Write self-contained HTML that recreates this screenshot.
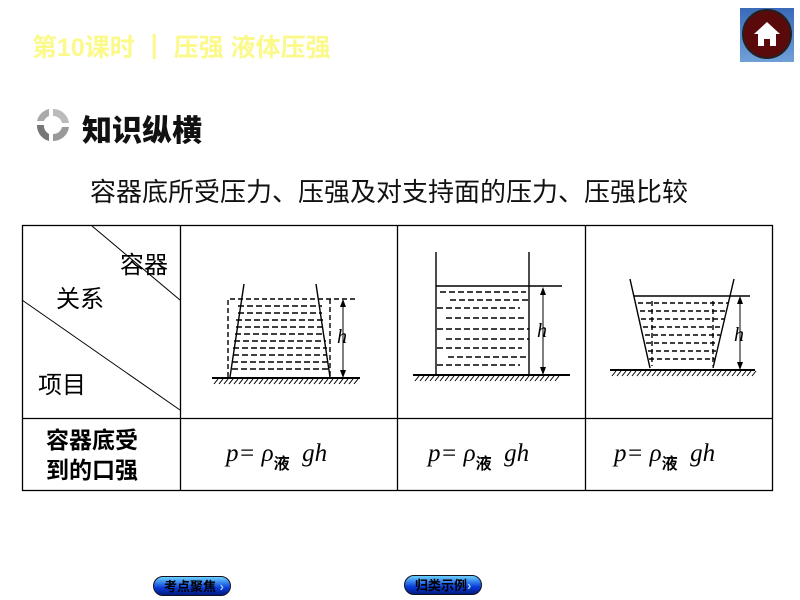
<!DOCTYPE html>
<html><head><meta charset="utf-8"><style>
body{margin:0;width:800px;height:600px;background:#fff;position:relative;overflow:hidden;font-family:"Liberation Sans","Noto Sans CJK SC",sans-serif}
.a{position:absolute;white-space:nowrap}
.btn{position:absolute;height:20px;border-radius:10px;background:linear-gradient(#6ad0ff,#0a3cd8 60%,#021a80);border:1px solid #112;font-size:13px;font-weight:bold;color:#000;line-height:20px;padding-left:10px;box-sizing:border-box}
.f{font-family:"Liberation Serif","Noto Serif CJK SC",serif;font-style:italic;font-size:25px}
.f span{font-size:16px;font-style:normal;font-weight:bold;position:relative;top:8px;font-family:'Noto Sans CJK SC',sans-serif}
</style></head><body>
<div class="a" style="left:32px;top:28px;font-size:25px;font-weight:bold;color:#fbf98a">第10课时 <span style="font-weight:900">┃</span> 压强 液体压强</div>
<div class="a" style="left:740px;top:8px;width:54px;height:54px;background:linear-gradient(#3a6ab8,#6fa0d8);"></div>
<div class="a" style="left:742px;top:9px;width:50px;height:50px;border-radius:50%;background:#5a0a0a;border:2px solid #222;box-sizing:border-box"></div>
<svg class="a" style="left:752px;top:19px" width="30" height="30" viewBox="0 0 30 30"><path d="M15 3 L28 15 L24 15 L24 27 L18 27 L18 20 L12 20 L12 27 L6 27 L6 15 L2 15 Z" fill="#fff"/></svg>
<svg class="a" style="left:34px;top:106px" width="38" height="38" viewBox="0 0 38 38"><path d="M19 3 A16 16 0 0 1 35 17 L28 17 A9 9 0 0 0 19 10 Z" fill="#bbb"/><path d="M35 21 A16 16 0 0 1 19 35 L19 28 A9 9 0 0 0 28 21 Z" fill="#999"/><path d="M15 35 A16 16 0 0 1 3 19 L10 19 A9 9 0 0 0 15 28 Z" fill="#777"/><path d="M3 15 A16 16 0 0 1 15 3 L15 10 A9 9 0 0 0 10 15Z" fill="#aaa"/></svg>
<div class="a" style="left:82px;top:106px;font-size:30px;font-weight:900;color:#111">知识纵横</div>
<div class="a" style="left:90px;top:172px;font-size:26px;color:#111">容器底所受压力、压强及对支持面的压力、压强比较</div>
<svg class="a" style="left:0;top:0" width="800" height="600">
<g stroke="#000" stroke-width="1.3" fill="none">
<rect x="22.5" y="225.5" width="750" height="265"/>
<line x1="180.5" y1="225" x2="180.5" y2="490"/><line x1="397.5" y1="225" x2="397.5" y2="490"/><line x1="585.5" y1="225" x2="585.5" y2="490"/>
<line x1="22" y1="418.5" x2="772" y2="418.5"/>
<line x1="92" y1="226" x2="180" y2="300" stroke-width="1"/><line x1="22" y1="300" x2="180" y2="410" stroke-width="1"/>
</g>
<g stroke="#000" fill="none" stroke-width="1.4">
<line x1="212" y1="378" x2="360" y2="378" stroke-width="2"/>
<line x1="230" y1="377" x2="244" y2="284"/><line x1="330" y1="377" x2="316" y2="284"/>
<path d="M228 377 V299 H355 M330 299 V377" stroke-dasharray="5 3"/>
<g stroke-dasharray="6 3"><line x1="238" y1="306" x2="322" y2="306"/><line x1="238" y1="313" x2="322" y2="313"/><line x1="236" y1="320" x2="324" y2="320"/><line x1="236" y1="327" x2="324" y2="327"/><line x1="235" y1="334" x2="325" y2="334"/><line x1="234" y1="341" x2="326" y2="341"/><line x1="233" y1="348" x2="327" y2="348"/><line x1="233" y1="355" x2="327" y2="355"/><line x1="232" y1="362" x2="328" y2="362"/><line x1="232" y1="369" x2="328" y2="369"/></g>
<line x1="343" y1="301" x2="343" y2="376" stroke-width="1"/>
<line x1="413" y1="375" x2="570" y2="375" stroke-width="2"/>
<line x1="436" y1="252" x2="436" y2="374"/><line x1="529" y1="252" x2="529" y2="374"/>
<line x1="436" y1="286" x2="562" y2="286"/>
<g stroke-dasharray="6 3"><line x1="440" y1="292" x2="526" y2="292"/><line x1="450" y1="300" x2="531" y2="300"/><line x1="437" y1="308" x2="520" y2="308"/><line x1="446" y1="318" x2="526" y2="318"/><line x1="437" y1="329" x2="529" y2="329"/><line x1="446" y1="339" x2="529" y2="339"/><line x1="437" y1="348" x2="522" y2="348"/><line x1="448" y1="357" x2="529" y2="357"/><line x1="437" y1="365" x2="520" y2="365"/></g>
<line x1="543" y1="289" x2="543" y2="373" stroke-width="1"/>
<line x1="610" y1="370" x2="755" y2="370" stroke-width="2"/>
<line x1="630" y1="279" x2="650" y2="368"/><line x1="734" y1="279" x2="713" y2="368"/>
<line x1="634" y1="296" x2="750" y2="296"/>
<g stroke-dasharray="5 3"><line x1="638" y1="303" x2="728" y2="303"/><line x1="640" y1="311" x2="726" y2="311"/><line x1="641" y1="319" x2="724" y2="319"/><line x1="643" y1="327" x2="722" y2="327"/><line x1="645" y1="335" x2="720" y2="335"/><line x1="646" y1="343" x2="718" y2="343"/><line x1="648" y1="351" x2="716" y2="351"/><line x1="649" y1="359" x2="715" y2="359"/><line x1="652" y1="301" x2="652" y2="366"/><line x1="713" y1="301" x2="713" y2="366"/></g>
<line x1="740" y1="298" x2="740" y2="368" stroke-width="1"/>
</g>
<g fill="#000"><path d="M343 299 l-3 8 h6z M343 378 l-3 -8 h6z M543 287 l-3 8 h6z M543 375 l-3 -8 h6z M740 296 l-3 8 h6z M740 370 l-3 -8 h6z"/></g>
<g stroke="#000" stroke-width="1">
<path id="hh" d="M214 384 l4 -5 M219 384 l4 -5 M224 384 l4 -5 M229 384 l4 -5 M234 384 l4 -5 M239 384 l4 -5 M244 384 l4 -5 M249 384 l4 -5 M254 384 l4 -5 M259 384 l4 -5 M264 384 l4 -5 M269 384 l4 -5 M274 384 l4 -5 M279 384 l4 -5 M284 384 l4 -5 M289 384 l4 -5 M294 384 l4 -5 M299 384 l4 -5 M304 384 l4 -5 M309 384 l4 -5 M314 384 l4 -5 M319 384 l4 -5 M324 384 l4 -5 M329 384 l4 -5 M334 384 l4 -5 M339 384 l4 -5 M344 384 l4 -5 M349 384 l4 -5 M354 384 l4 -5"/>
<use href="#hh" transform="translate(201,-3)"/>
<use href="#hh" transform="translate(398,-8)"/>
</g>
<g font-family="Liberation Serif,serif" font-style="italic" font-size="20"><text x="337" y="343">h</text><text x="537" y="337">h</text><text x="734" y="341">h</text></g>
</svg>
<div class="a" style="left:120px;top:245px;font-size:24px">容器</div>
<div class="a" style="left:56px;top:279px;font-size:24px">关系</div>
<div class="a" style="left:38px;top:365px;font-size:24px">项目</div>
<div class="a" style="left:46px;top:425px;font-size:23px;font-weight:bold;line-height:30px">容器底受<br>到的口强</div>
<div class="a f" style="left:226px;top:440px">p= ρ<span>液</span>&nbsp; gh</div>
<div class="a f" style="left:428px;top:440px">p= ρ<span>液</span>&nbsp; gh</div>
<div class="a f" style="left:614px;top:440px">p= ρ<span>液</span>&nbsp; gh</div>
<div class="btn" style="left:153px;top:576px;width:78px">考点聚焦 <span style="color:#9cf">›</span></div>
<div class="btn" style="left:404px;top:575px;width:78px">归类示例<span style="color:#9cf">›</span></div>
</body></html>
